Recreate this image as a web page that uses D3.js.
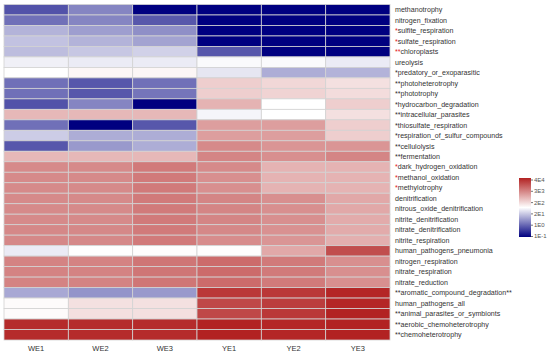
<!DOCTYPE html>
<html>
<head>
<meta charset="utf-8">
<script src="https://cdn.jsdelivr.net/npm/d3@7"></script>
<style>
body { margin: 0; background: #fff; }
svg { display: block; }
text { font-family: "Liberation Sans", Arial, sans-serif; }
</style>
</head>
<body>
<div id="chart"></div>
<script>
// samples (columns)
var samples = ["WE1", "WE2", "WE3", "YE1", "YE2", "YE3"];

// functions (rows), with prefix/suffix stars and whether the stars are red
var functions = [
	"methanotrophy", "nitrogen_fixation", "sulfite_respiration", "sulfate_respiration",
	"chloroplasts", "ureolysis", "predatory_or_exoparasitic", "photoheterotrophy",
	"phototrophy", "hydrocarbon_degradation", "intracellular_parasites", "thiosulfate_respiration",
	"respiration_of_sulfur_compounds", "cellulolysis", "fermentation", "dark_hydrogen_oxidation",
	"methanol_oxidation", "methylotrophy", "denitrification", "nitrous_oxide_denitrification",
	"nitrite_denitrification", "nitrate_denitrification", "nitrite_respiration", "human_pathogens_pneumonia",
	"nitrogen_respiration", "nitrate_respiration", "nitrate_reduction", "aromatic_compound_degradation",
	"human_pathogens_all", "animal_parasites_or_symbionts", "aerobic_chemoheterotrophy", "chemoheterotrophy"
];
var starsBefore = ["", "", "*", "*", "**", "", "*", "**", "**", "*", "**", "*", "*", "**", "**", "*",
	"*", "*", "", "", "", "", "", "", "", "", "", "**", "", "**", "**", "**"];
var starsAfter = ["", "", "", "", "", "", "", "", "", "", "", "", "", "", "", "",
	"", "", "", "", "", "", "", "", "", "", "", "**", "", "", "", ""];
var redStars = ["sulfite_respiration", "sulfate_respiration", "chloroplasts",
	"dark_hydrogen_oxidation", "methanol_oxidation", "methylotrophy"];

// cell values, in colour-key units (0 = 1E-1 ... 5 = 4E4), one array per row
var values = [
	[0.8, 1.3, 0, 0, 0, 0],
	[1.1, 1.3, 0.85, 0, 0, 0],
	[1.75, 1.55, 1.4, 0, 0, 0],
	[1.9, 1.75, 1.6, 0, 0, 0],
	[1.85, 1.95, 2.05, 0.85, 0, 0],
	[2.35, 2.3, 2.3, 2.45, 2.45, 2.3],
	[2.5, 2.6, 2.6, 2.25, 1.7, 1.75],
	[1.1, 0.85, 1.1, 3.05, 2.95, 2.85],
	[1.1, 0.85, 1.15, 3.05, 3.0, 2.9],
	[0.8, 1.3, 0, 3.36, 2.5, 3.05],
	[3.3, 3.3, 3.3, 2.4, 2.5, 2.85],
	[1.1, 0, 0.85, 3.6, 3.6, 3.05],
	[2.0, 1.7, 1.7, 3.6, 3.6, 3.05],
	[0.85, 1.5, 1.7, 3.82, 3.7, 3.7],
	[3.3, 3.3, 3.3, 3.88, 3.77, 3.88],
	[3.82, 3.82, 4.0, 3.82, 3.36, 3.36],
	[3.82, 3.82, 4.0, 3.77, 3.36, 3.36],
	[3.82, 3.82, 4.0, 3.77, 3.36, 3.36],
	[3.82, 3.82, 4.0, 3.88, 3.77, 3.48],
	[3.82, 3.82, 4.0, 3.88, 3.77, 3.48],
	[3.82, 3.82, 4.0, 3.88, 3.77, 3.45],
	[3.85, 3.85, 4.0, 3.85, 3.75, 3.45],
	[3.85, 3.85, 4.0, 3.8, 3.7, 3.4],
	[2.3, 2.52, 2.52, 2.52, 3.48, 4.5],
	[3.9, 3.9, 4.05, 4.17, 4.0, 3.77],
	[3.9, 3.9, 4.05, 4.17, 4.0, 3.77],
	[3.9, 3.9, 4.05, 4.17, 4.0, 3.77],
	[1.65, 1.45, 1.5, 4.75, 4.75, 4.95],
	[2.55, 2.85, 2.85, 4.57, 4.7, 4.95],
	[2.55, 2.85, 2.85, 4.57, 4.75, 5.0],
	[4.9, 4.9, 4.9, 5.0, 4.95, 5.0],
	[4.9, 4.9, 4.9, 5.0, 4.95, 5.0]
];

// colour key labels, bottom to top
var keyLabels = ["1E-1", "1E0", "2E1", "2E2", "3E3", "4E4"];

var width = 550, height = 358;
var svg = d3.select("#chart").append("svg")
	.attr("width", width)
	.attr("height", height);

var x = d3.scaleBand().domain(samples).range([4, 390]);
var y = d3.scaleBand().domain(functions).range([4.5, 340]);

var color = d3.scaleLinear()
	.domain([0, 2.5, 5])
	.range(["#000080", "#ffffff", "#b22222"]);

var cells = [];
values.forEach(function(row, i) {
	row.forEach(function(v, j) {
		cells.push({ fn: functions[i], sample: samples[j], value: v });
	});
});

svg.append("g")
	.selectAll("rect")
	.data(cells)
	.enter().append("rect")
		.attr("x", function(d) { return x(d.sample); })
		.attr("y", function(d) { return y(d.fn); })
		.attr("width", x.bandwidth())
		.attr("height", y.bandwidth())
		.attr("fill", function(d) { return color(d.value); })
		.attr("stroke", "#d3d3d3")
		.attr("stroke-width", 0.8);

// row labels
var rowLabel = svg.append("g")
	.selectAll("text")
	.data(functions)
	.enter().append("text")
		.attr("x", 395)
		.attr("y", function(d) { return y(d) + y.bandwidth() / 2; })
		.attr("dy", "0.35em")
		.attr("font-size", 7.1)
		.attr("fill", "#333");

rowLabel.append("tspan")
	.attr("fill", function(d) { return redStars.indexOf(d) >= 0 ? "#e41a1c" : "#333"; })
	.text(function(d, i) { return starsBefore[i]; });
rowLabel.append("tspan")
	.text(function(d) { return d; });
rowLabel.append("tspan")
	.text(function(d, i) { return starsAfter[i]; });

// column labels
svg.append("g")
	.selectAll("text")
	.data(samples)
	.enter().append("text")
		.attr("x", function(d) { return x(d) + x.bandwidth() / 2; })
		.attr("y", 351)
		.attr("text-anchor", "middle")
		.attr("font-size", 7.5)
		.attr("fill", "#333")
		.text(function(d) { return d; });

// colour key
var defs = svg.append("defs");
var grad = defs.append("linearGradient")
	.attr("id", "key")
	.attr("x1", 0).attr("y1", 1)
	.attr("x2", 0).attr("y2", 0);
[0, 2.5, 5].forEach(function(v) {
	grad.append("stop")
		.attr("offset", v / 5)
		.attr("stop-color", color(v));
});

var keyY = d3.scalePoint().domain(keyLabels).range([236, 179.5]);

svg.append("rect")
	.attr("x", 519)
	.attr("y", 178)
	.attr("width", 12)
	.attr("height", 59)
	.attr("fill", "url(#key)");

var key = svg.append("g")
	.attr("transform", "translate(531,0)")
	.call(d3.axisRight(keyY).tickSize(2).tickPadding(1));
key.select(".domain").remove();
key.selectAll("line").attr("stroke", "#777");
key.selectAll("text")
	.attr("font-size", 6)
	.attr("fill", "#555")
	.attr("font-family", "Liberation Sans, Arial, sans-serif");
</script>
</body>
</html>
